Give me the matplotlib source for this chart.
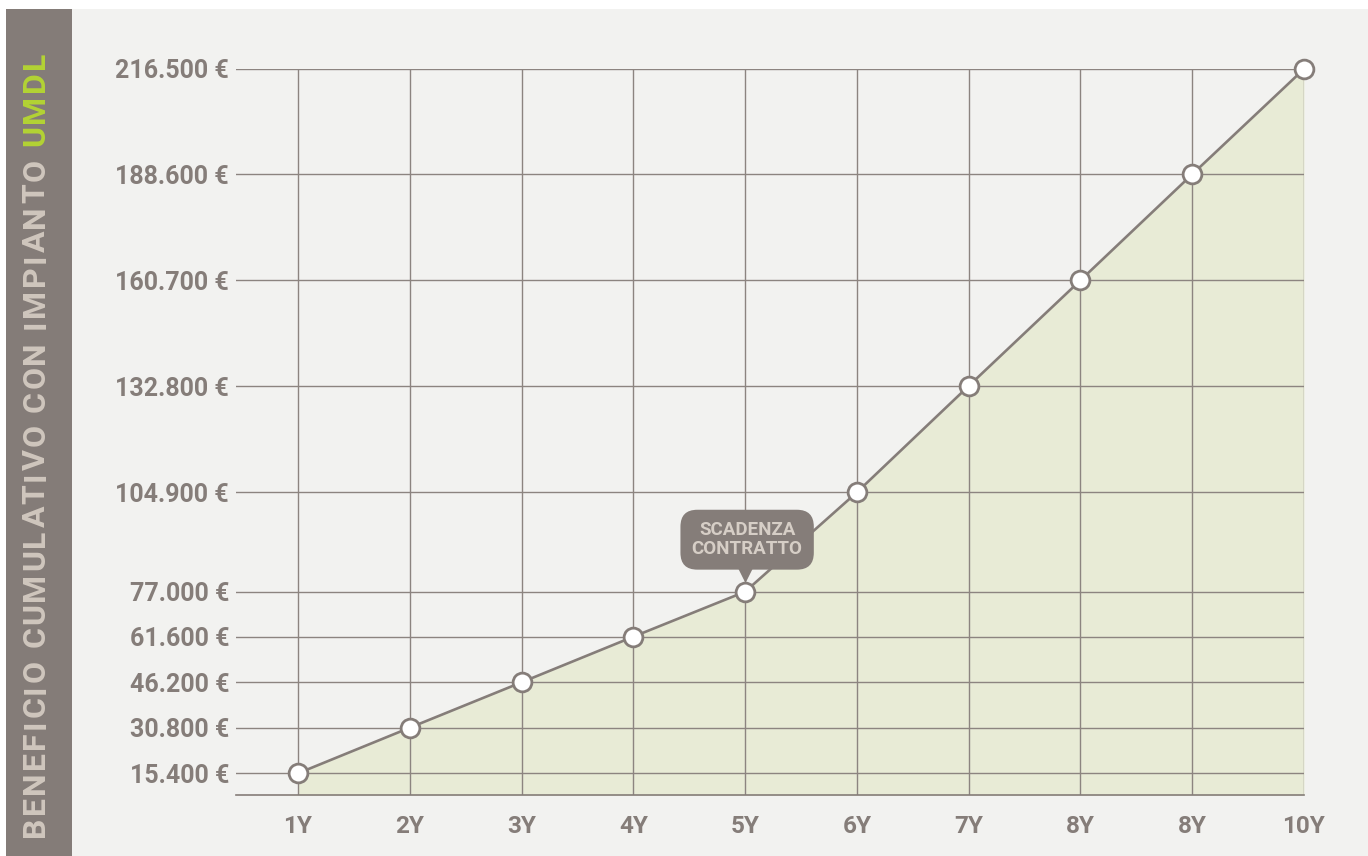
import numpy as np
import matplotlib
matplotlib.use('Agg')
import matplotlib.pyplot as plt
from matplotlib.patches import Rectangle
from matplotlib.transforms import offset_copy

years = ['1Y', '2Y', '3Y', '4Y', '5Y', '6Y', '7Y', '8Y', '8Y', '10Y']
benefit = [15400, 30800, 46200, 61600, 77000, 104900, 132800, 160700, 188600, 216500]
ytick_vals = [15400, 30800, 46200, 61600, 77000, 104900, 132800, 160700, 188600, 216500]
ytick_labels = ['15.400 €', '30.800 €', '46.200 €', '61.600 €', '77.000 €',
                '104.900 €', '132.800 €', '160.700 €', '188.600 €', '216.500 €']
side_title = 'BENEFICIO CUMULATIVO CON IMPIANTO'
side_brand = 'UMDL'
callout = 'SCADENZA\nCONTRATTO'

# the source axis is hand spaced, not linear: knot -> height in px above the x axis
knot_vals = [0] + ytick_vals
knot_px = [0, 22, 67.6, 113, 158.6, 203.6, 303, 409.3, 515, 621, 726.3]

def fwd(v):
    return np.interp(v, knot_vals, knot_px)

def inv(p):
    return np.interp(p, knot_px, knot_vals)

grey = '#857d79'
bg = '#f2f2f0'
fill = '#e8ebd6'

plt.rcParams['font.family'] = ['Roboto', 'DejaVu Sans']

fig = plt.figure(figsize=(13.68, 8.56), dpi=100, facecolor='white')
W, H = 1368, 856
fig.patches.append(Rectangle((6 / W, 0), 1 - 6 / W, 1 - 9 / H, transform=fig.transFigure,
                             facecolor=bg, edgecolor='none', zorder=-2))
fig.patches.append(Rectangle((6 / W, 0), 66 / W, 1 - 9 / H, transform=fig.transFigure,
                             facecolor='#847c78', edgecolor='none', zorder=-1))

ax = fig.add_axes([236 / W, 60.7 / H, 1068 / W, 726.3 / H])
ax.set_zorder(5)
ax.set_facecolor('none')
ax.set_yscale('function', functions=(fwd, inv))
ax.set_ylim(0, 216500)
x = np.arange(1, len(years) + 1)
ax.set_xlim(0.445, 10)

ax.fill_between(x, 0, benefit, color=fill, lw=0, zorder=1)
for yv in ytick_vals:
    ax.axhline(yv, color='#8c8480', lw=1.0, zorder=2)
for xv in x:
    ax.axvline(xv, color='#8c8480', lw=1.0, zorder=2)
ax.plot(x, benefit, color=grey, lw=1.9, zorder=3, clip_on=False)
ax.plot(x, benefit, 'o', ms=13.5, mfc='white', mec=grey, mew=2, zorder=4, clip_on=False)

for s in ['top', 'right', 'left']:
    ax.spines[s].set_visible(False)
ax.spines['bottom'].set_color(grey)
ax.spines['bottom'].set_linewidth(1.2)

ax.set_xticks(x)
ax.set_xticklabels(years)
ax.set_yticks(ytick_vals)
ax.set_yticklabels(ytick_labels)
ax.tick_params(axis='x', length=0, pad=14, labelsize=17.5, labelcolor=grey)
ax.tick_params(axis='y', length=0, pad=5, labelsize=18, labelcolor=grey)
for lab in ax.get_xticklabels() + ax.get_yticklabels():
    lab.set_fontweight('bold')
ax.yaxis.set_minor_locator(matplotlib.ticker.NullLocator())

# callout over the 5th year
ax.annotate(callout, xy=(5, benefit[4]), xytext=(2, 52), textcoords='offset pixels',
            ha='center', va='center', fontsize=13.5, fontweight='bold', color='#d6cec6',
            linespacing=1.1, zorder=6,
            bbox=dict(boxstyle='round,pad=0.6,rounding_size=0.9', fc=grey, ec='none'))
tri = offset_copy(ax.transData, fig=fig, x=0, y=19, units='dots')
ax.plot(5, benefit[4], marker='v', ms=11, color=grey, transform=tri, zorder=6, clip_on=False)

# vertical side title, letter-spaced by hand to fill the band
renderer = fig.canvas.get_renderer()
full = side_title + ' ' + side_brand
cols = ['#cfc6bd'] * (len(side_title) + 1) + ['#b3d334'] * len(side_brand)
probe = fig.text(0, 0, '', fontsize=23, fontweight='bold')

def adv(s):
    # advance of a prefix, measured through a trailing marker so spaces count
    probe.set_text(s + 'I')
    w1 = probe.get_window_extent(renderer).width
    probe.set_text('I')
    return w1 - probe.get_window_extent(renderer).width

starts = [adv(full[:i]) for i in range(len(full))]
probe.set_text(full)
natural = probe.get_window_extent(renderer).width
probe.remove()
spacing = (837.0 - 52.0 - natural) / (len(full) - 1)
for i, ch in enumerate(full):
    if ch == ' ':
        continue
    fig.text(35.5 / W, 1 - (837.0 - starts[i] - i * spacing) / H, ch, rotation=90,
             ha='center', va='bottom', rotation_mode='default',
             fontsize=23, fontweight='bold', color=cols[i])

fig.savefig('out.png', dpi=100, facecolor='white')
